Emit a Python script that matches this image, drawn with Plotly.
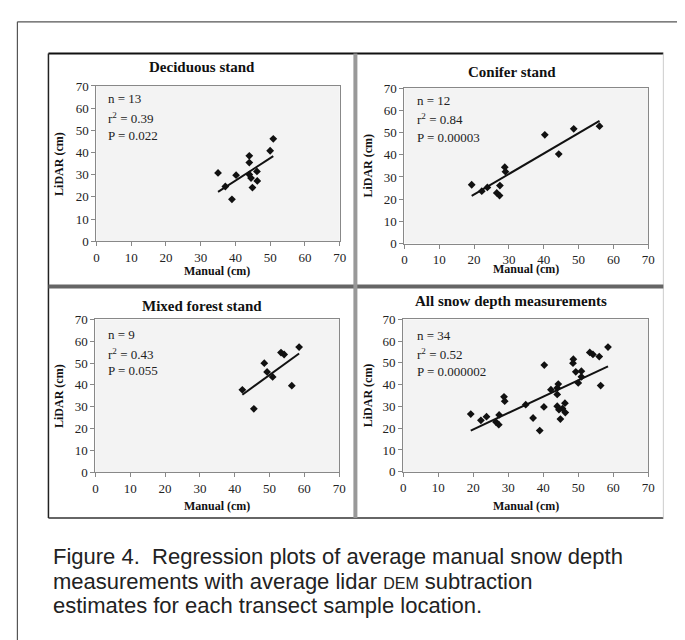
import plotly.graph_objects as go

W, H = 685, 640

# ---- data ----
dec_manual = [35.0, 37.1, 39.0, 40.2, 44.0, 44.0, 44.0, 44.5, 44.9, 46.3, 46.2, 50.0, 50.9]
dec_lidar = [30.8, 24.7, 18.9, 29.8, 38.5, 35.5, 30.1, 28.5, 24.2, 27.2, 31.5, 40.8, 46.2]

con_manual = [19.3, 22.2, 23.8, 26.5, 27.3, 27.4, 28.8, 29.0, 40.3, 44.3, 48.6, 56.0]
con_lidar = [26.5, 23.6, 25.3, 22.8, 21.6, 26.1, 34.4, 32.4, 49.0, 40.3, 51.7, 52.9]

mix_manual = [42.2, 45.5, 48.5, 49.3, 50.9, 53.3, 54.2, 56.4, 58.5]
mix_lidar = [37.7, 29.0, 49.9, 45.9, 43.6, 54.8, 53.9, 39.6, 57.3]

all_manual = dec_manual + con_manual + mix_manual
all_lidar = dec_lidar + con_lidar + mix_lidar

titles = ["Deciduous stand", "Conifer stand", "Mixed forest stand", "All snow depth measurements"]
stats_n = ["13", "12", "9", "34"]
stats_r2 = ["0.39", "0.84", "0.43", "0.52"]
stats_p = ["0.022", "0.00003", "0.055", "0.000002"]
fit_slope = [1.013, 0.92, 1.16, 0.753]
fit_intercept = [-13.2, 3.76, -13.5, 4.4]
tick_vals = [0, 10, 20, 30, 40, 50, 60, 70]

series = [(dec_manual, dec_lidar), (con_manual, con_lidar),
          (mix_manual, mix_lidar), (all_manual, all_lidar)]

# ---- layout geometry (pixels) ----
plot_boxes = [  # x0, x1, ytop, ybottom
    (86.7, 333.5, 72.7, 231.7),
    (399.3, 646.7, 75.0, 234.0),
    (85.7, 333.0, 311.7, 468.0),
    (398.0, 646.7, 311.7, 467.7),
]


def px(x):
    return x / W


def py(y):
    return 1 - y / H


SERIF = "Liberation Serif"
fig = go.Figure()
annotations = []

for i, ((mx, ly), box) in enumerate(zip(series, plot_boxes)):
    n = i + 1
    xa = "x" if n == 1 else f"x{n}"
    ya = "y" if n == 1 else f"y{n}"
    fig.add_trace(go.Scatter(
        x=mx, y=ly, mode="markers", xaxis=xa, yaxis=ya,
        marker=dict(symbol="diamond", size=6, color="#111"),
        showlegend=False, hoverinfo="skip"))
    x0f, x1f = min(mx), max(mx)
    fig.add_trace(go.Scatter(
        x=[x0f, x1f],
        y=[fit_slope[i] * x0f + fit_intercept[i], fit_slope[i] * x1f + fit_intercept[i]],
        mode="lines", xaxis=xa, yaxis=ya,
        line=dict(color="#111", width=2), showlegend=False, hoverinfo="skip"))

    x0, x1, yt, yb = box
    axis_common = dict(
        range=[0, 70], tickvals=tick_vals, showgrid=False, zeroline=False,
        showline=True, linecolor="#888", linewidth=1, mirror=True,
        ticks="outside", ticklen=4, tickcolor="#888",
        tickfont=dict(family=SERIF, size=13, color="#222"), fixedrange=True)
    fig.update_layout(**{
        ("xaxis" if n == 1 else f"xaxis{n}"): dict(
            domain=[px(x0), px(x1)], anchor=ya, **axis_common),
        ("yaxis" if n == 1 else f"yaxis{n}"): dict(
            domain=[py(yb), py(yt)], anchor=xa, **axis_common),
    })
    # panel title
    title_y = [53, 58, 298, 293][i]
    title_x = [194, 508, 194, 507][i]
    annotations.append(dict(text=f"<b>{titles[i]}</b>", x=px(title_x), y=py(title_y),
                            xref="paper", yref="paper", showarrow=False,
                            font=dict(family=SERIF, size=15, color="#111"),
                            xanchor="center", yanchor="middle"))
    # x axis title
    xt_x = [209, 523, 209, 523][i]
    xt_y = [262, 260, 503, 503][i]
    annotations.append(dict(text="<b>Manual (cm)</b>", x=px(xt_x), y=py(xt_y),
                            xref="paper", yref="paper", showarrow=False,
                            font=dict(family=SERIF, size=12, color="#111"),
                            xanchor="center", yanchor="middle"))
    # y axis title
    yt_x = [48, 362, 48, 362][i]
    annotations.append(dict(text="<b>LiDAR (cm)</b>", x=px(yt_x), y=py((yt + yb) / 2),
                            xref="paper", yref="paper", showarrow=False, textangle=-90,
                            font=dict(family=SERIF, size=12, color="#111"),
                            xanchor="center", yanchor="middle"))
    # stats text
    sx = [96, 410, 96, 410][i]
    sy = [[85, 105, 123], [88, 107, 125], [327, 347, 364], [328, 347, 365]][i]
    lines = [f"n = {stats_n[i]}", f"r<sup>2</sup> = {stats_r2[i]}", f"P = {stats_p[i]}"]
    for t, yy in zip(lines, sy):
        annotations.append(dict(text=t, x=px(sx), y=py(yy), xref="paper", yref="paper",
                                showarrow=False, xanchor="left", yanchor="middle",
                                font=dict(family=SERIF, size=13, color="#222")))

# caption
caption = ["Figure 4.  Regression plots of average manual snow depth",
           "measurements with average lidar <span style='font-size:16px'>DEM</span> subtraction",
           "estimates for each transect sample location."]
for t, yy in zip(caption, [555, 580, 605]):
    annotations.append(dict(text=t, x=px(41), y=py(yy), xref="paper", yref="paper",
                            showarrow=False, xanchor="left", yanchor="middle",
                            font=dict(family="Liberation Sans", size=22, color="#222")))

shapes = []


def line(x0, y0, x1, y1, color, width):
    shapes.append(dict(type="line", xref="paper", yref="paper",
                       x0=px(x0), y0=py(y0), x1=px(x1), y1=py(y1),
                       line=dict(color=color, width=width)))


# outer frame
line(6.5, 7, 680, 7, "#555", 1.2)
line(6.5, 7, 6.5, 640, "#555", 1.2)
line(680, 7, 680, 640, "#bbb", 1)
# inner chart box
line(38, 39.3, 662, 39.3, "#111", 2)
line(38, 39.3, 38, 515, "#222", 1.5)
line(38, 515, 662, 515, "#333", 1.5)
line(662, 39.3, 662, 515, "#ccc", 1)
# dividers
line(38, 278, 662, 278, "#666", 4)
line(349.5, 39.3, 349.5, 515, "#999", 4)

# plot area backgrounds
for (x0, x1, yt, yb) in plot_boxes:
    shapes.append(dict(type="rect", xref="paper", yref="paper", layer="below",
                       x0=px(x0), x1=px(x1), y0=py(yb), y1=py(yt),
                       fillcolor="#f3f3f3", line=dict(width=0)))

fig.update_layout(
    width=W, height=H, margin=dict(l=0, r=0, t=0, b=0),
    paper_bgcolor="white", plot_bgcolor="rgba(0,0,0,0)",
    annotations=annotations, shapes=shapes, showlegend=False)

fig.write_html("out.html", config={"displayModeBar": False})
